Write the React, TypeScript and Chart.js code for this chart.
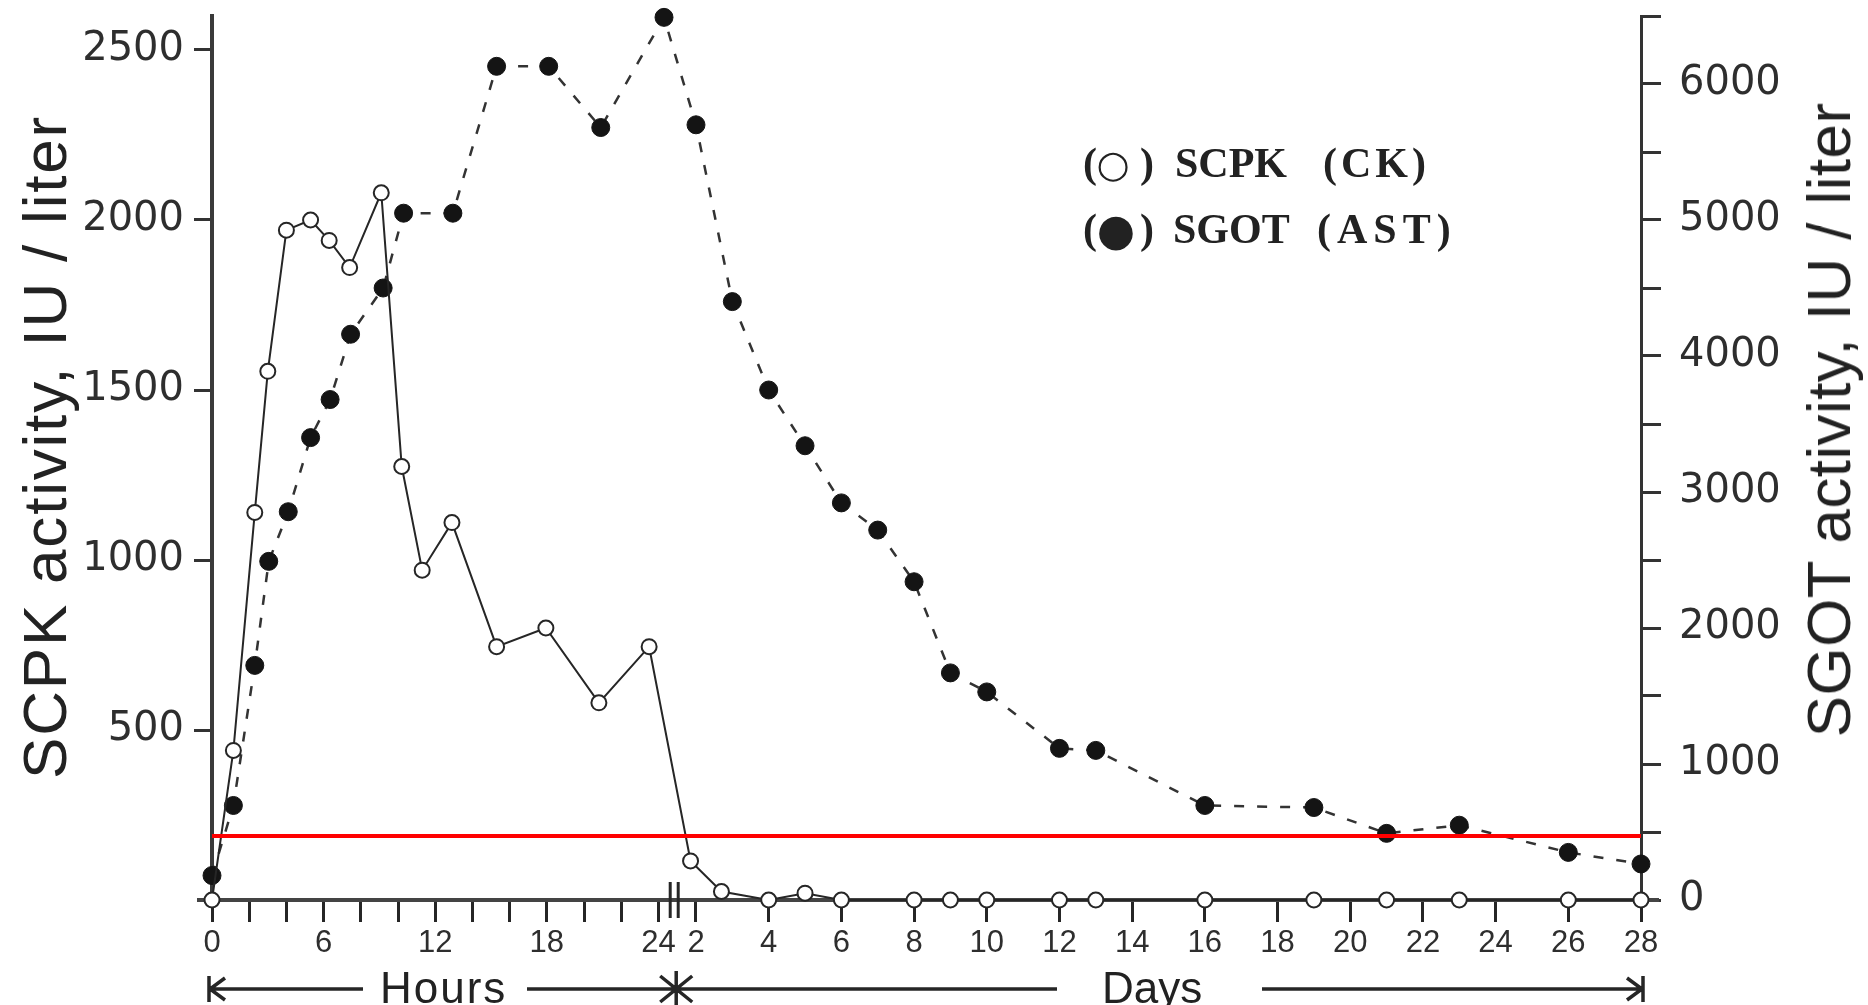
import React, { useEffect, useRef } from 'react';
import { Chart, registerables } from 'chart.js';

Chart.register(...registerables);

// ---------- DATA ----------
// SCPK (CK), IU/liter, left axis (open circles, solid line)
const scpkHours = [0, 1.15, 2.3, 3, 4, 5.3, 6.3, 7.4, 9.1, 10.2, 11.3, 12.9, 15.3, 17.95, 20.8, 23.5];
const scpkHourValues = [0, 440, 1140, 1555, 1970, 2000, 1940, 1860, 2080, 1275, 970, 1110, 745, 800, 580, 745];
const scpkDays = [1.85, 2.7, 4, 5, 6, 8, 9, 10, 12, 13, 16, 19, 21, 23, 26, 28];
const scpkDayValues = [115, 25, 0, 20, 0, 0, 0, 0, 0, 0, 0, 0, 0, 0, 0, 0];

// SGOT (AST), IU/liter, right axis (filled circles, dashed line)
const sgotHours = [0, 1.15, 2.3, 3.05, 4.1, 5.3, 6.35, 7.45, 9.2, 10.3, 12.95, 15.3, 18.1, 20.9, 24.3];
const sgotHourValues = [180, 695, 1725, 2490, 2855, 3400, 3680, 4160, 4500, 5050, 5050, 6130, 6130, 5680, 6490];
const sgotDays = [2, 3, 4, 5, 6, 7, 8, 9, 10, 12, 13, 16, 19, 21, 23, 26, 28];
const sgotDayValues = [5700, 4400, 3750, 3340, 2920, 2720, 2340, 1670, 1530, 1115, 1100, 695, 680, 490, 550, 350, 265];

// Reference (red) line, SGOT IU/liter
const sgotReferenceLevel = 470;

// Tick values and labels
const hourTicks = [0, 2, 4, 6, 8, 10, 12, 14, 16, 18, 20, 22, 24];
const hourTickLabels = ['0', '', '', '6', '', '', '12', '', '', '18', '', '', '24'];
const dayTicks = [2, 4, 6, 8, 10, 12, 14, 16, 18, 20, 22, 24, 26, 28];
const dayTickLabels = ['2', '4', '6', '8', '10', '12', '14', '16', '18', '20', '22', '24', '26', '28'];
const scpkTicks = [500, 1000, 1500, 2000, 2500];
const scpkTickLabels = ['500', '1000', '1500', '2000', '2500'];
const sgotTicks = [0, 500, 1000, 1500, 2000, 2500, 3000, 3500, 4000, 4500, 5000, 5500, 6000, 6500];
const sgotTickLabels = ['0', '', '1000', '', '2000', '', '3000', '', '4000', '', '5000', '', '6000', ''];

const SCPK_MAX = 2600;
const SGOT_MAX = 6500;

// Broken time axis: hours are 1 unit each, days are compressed after the break
const DAY_AXIS_ORIGIN = 26.02; // axis units at day 2
const DAY_AXIS_STEP = 1.954; // axis units per day
const hourToAxis = (h: number) => h;
const dayToAxis = (d: number) => DAY_AXIS_ORIGIN + (d - 2) * DAY_AXIS_STEP;
const X_MAX = dayToAxis(28);

const xTickValues = [...hourTicks.map(hourToAxis), ...dayTicks.map(dayToAxis)];
const xTickLabels = [...hourTickLabels, ...dayTickLabels];

const INK = '#262626';

const decorPlugin = {
  id: 'decor',
  beforeDatasetsDraw(chart: any) {
    const { ctx, chartArea, scales } = chart;
    const x = scales.x;
    const yb = chartArea.bottom;
    ctx.save();
    // x-axis line extensions beyond the y axes
    ctx.strokeStyle = '#444';
    ctx.lineWidth = 4;
    ctx.beginPath();
    ctx.moveTo(chartArea.left - 15, yb);
    ctx.lineTo(chartArea.left, yb);
    ctx.moveTo(chartArea.right, yb);
    ctx.lineTo(chartArea.right + 18, yb);
    ctx.stroke();
    // axis break marks between 24 h and day 2
    const bc = (x.getPixelForValue(hourToAxis(24)) + x.getPixelForValue(dayToAxis(2))) / 2 - 3;
    ctx.strokeStyle = INK;
    ctx.lineWidth = 3;
    ctx.beginPath();
    [bc - 4, bc + 4].forEach((px) => {
      ctx.moveTo(px, yb - 18);
      ctx.lineTo(px, yb + 18);
    });
    ctx.stroke();
    ctx.restore();
  },
  afterDraw(chart: any) {
    const { ctx, chartArea, scales } = chart;
    const x = scales.x;
    const ya = chartArea.bottom + 89;
    const x0 = x.getPixelForValue(0) - 3;
    const jx = (x.getPixelForValue(hourToAxis(24)) + x.getPixelForValue(dayToAxis(2))) / 2 - 1;
    const xe = x.getPixelForValue(X_MAX) + 2;
    ctx.save();
    ctx.strokeStyle = INK;
    ctx.lineWidth = 3.5;
    ctx.lineCap = 'butt';
    ctx.beginPath();
    // Hours arrow
    ctx.moveTo(x0, ya); ctx.lineTo(363, ya);
    ctx.moveTo(527, ya); ctx.lineTo(jx, ya);
    // Days arrow
    ctx.moveTo(jx, ya); ctx.lineTo(1057, ya);
    ctx.moveTo(1262, ya); ctx.lineTo(xe, ya);
    // end bars
    ctx.moveTo(x0, ya - 13); ctx.lineTo(x0, ya + 13);
    ctx.moveTo(jx, ya - 18); ctx.lineTo(jx, ya + 16);
    ctx.moveTo(xe, ya - 13); ctx.lineTo(xe, ya + 13);
    // chevrons
    ctx.moveTo(x0 + 16, ya - 11); ctx.lineTo(x0 + 1, ya); ctx.lineTo(x0 + 16, ya + 11);
    ctx.moveTo(jx - 16, ya - 13); ctx.lineTo(jx, ya); ctx.lineTo(jx - 16, ya + 13);
    ctx.moveTo(jx + 16, ya - 13); ctx.lineTo(jx, ya); ctx.lineTo(jx + 16, ya + 13);
    ctx.moveTo(xe - 16, ya - 11); ctx.lineTo(xe - 1, ya); ctx.lineTo(xe - 16, ya + 11);
    ctx.stroke();
    ctx.restore();
  },
};

const tickFontY = { family: "'DejaVu Sans', 'Liberation Sans', sans-serif", size: 40 };
const tickFontX = { family: "'Liberation Sans', Arial, sans-serif", size: 31 };

export default function App() {
  const canvasRef = useRef<HTMLCanvasElement | null>(null);

  useEffect(() => {
    if (!canvasRef.current) return;
    const scpkPoints = [
      ...scpkHours.map((h, i) => ({ x: hourToAxis(h), y: scpkHourValues[i] })),
      ...scpkDays.map((d, i) => ({ x: dayToAxis(d), y: scpkDayValues[i] })),
    ];
    const sgotPoints = [
      ...sgotHours.map((h, i) => ({ x: hourToAxis(h), y: sgotHourValues[i] })),
      ...sgotDays.map((d, i) => ({ x: dayToAxis(d), y: sgotDayValues[i] })),
    ];
    const refLine = [
      { x: 0, y: sgotReferenceLevel },
      { x: X_MAX, y: sgotReferenceLevel },
    ];

    const chart = new Chart(canvasRef.current, {
      type: 'line',
      data: {
        datasets: [
          {
            label: 'Reference',
            data: refLine,
            yAxisID: 'yR',
            borderColor: '#ff0000',
            borderWidth: 4,
            pointRadius: 0,
            clip: false as any,
          },
          {
            label: 'SCPK (CK)',
            data: scpkPoints,
            yAxisID: 'yL',
            borderColor: INK,
            borderWidth: 2,
            pointRadius: 7.5,
            pointBackgroundColor: '#ffffff',
            pointBorderColor: INK,
            pointBorderWidth: 2,
            clip: false as any,
          },
          {
            label: 'SGOT (AST)',
            data: sgotPoints,
            yAxisID: 'yR',
            borderColor: '#333333',
            borderWidth: 2.5,
            borderDash: [10, 13],
            pointRadius: 9,
            pointBackgroundColor: '#141414',
            pointBorderColor: '#141414',
            pointBorderWidth: 1,
            clip: false as any,
          },
        ],
      },
      options: {
        animation: false,
        responsive: false,
        events: [],
        layout: { padding: { top: 16, left: 0, right: 0, bottom: 0 } },
        plugins: { legend: { display: false }, tooltip: { enabled: false } },
        scales: {
          x: {
            type: 'linear',
            min: 0,
            max: X_MAX,
            afterBuildTicks: (s: any) => {
              s.ticks = xTickValues.map((v) => ({ value: v }));
            },
            afterFit: (s: any) => {
              s.height = 105;
              s.paddingLeft = 0;
              s.paddingRight = 0;
            },
            ticks: {
              autoSkip: false,
              maxRotation: 0,
              minRotation: 0,
              padding: 3,
              color: '#2e2e2e',
              font: tickFontX,
              callback: (_v: any, i: number) => xTickLabels[i],
            },
            grid: {
              drawOnChartArea: false,
              drawTicks: true,
              tickLength: 22,
              tickWidth: 3,
              tickColor: INK,
            },
            border: { display: true, color: '#444', width: 4 },
          },
          yL: {
            type: 'linear',
            position: 'left',
            min: 0,
            max: SCPK_MAX,
            afterBuildTicks: (s: any) => {
              s.ticks = scpkTicks.map((v) => ({ value: v }));
            },
            afterFit: (s: any) => {
              s.width = 212;
              s.paddingTop = 0;
              s.paddingBottom = 0;
            },
            ticks: {
              padding: 10,
              color: '#2e2e2e',
              font: tickFontY,
              callback: (_v: any, i: number) => scpkTickLabels[i],
            },
            grid: {
              drawOnChartArea: false,
              drawTicks: true,
              tickLength: 18,
              tickWidth: 3,
              tickColor: '#333',
            },
            border: { display: true, color: '#3a3a3a', width: 4 },
          },
          yR: {
            type: 'linear',
            position: 'right',
            min: 0,
            max: SGOT_MAX,
            afterBuildTicks: (s: any) => {
              s.ticks = sgotTicks.map((v) => ({ value: v }));
            },
            afterFit: (s: any) => {
              s.width = 227;
              s.paddingTop = 0;
              s.paddingBottom = 0;
            },
            ticks: {
              padding: 18,
              color: '#2e2e2e',
              font: tickFontY,
              callback: (_v: any, i: number) => sgotTickLabels[i],
            },
            grid: {
              drawOnChartArea: false,
              drawTicks: true,
              tickLength: 20,
              tickWidth: 3,
              tickColor: '#333',
            },
            border: { display: true, color: '#333', width: 3 },
          },
        },
      } as any,
      plugins: [decorPlugin],
    });
    return () => chart.destroy();
  }, []);

  const sans = "'Liberation Sans', Arial, sans-serif";
  const serif = "'Liberation Serif', 'Times New Roman', serif";
  const abs = (extra: React.CSSProperties): React.CSSProperties => ({
    position: 'absolute',
    whiteSpace: 'pre',
    lineHeight: 1,
    color: '#222',
    ...extra,
  });

  return (
    <div style={{ position: 'absolute', left: 0, top: 0, width: 1868, height: 1005, background: '#fff', overflow: 'hidden' }}>
      <canvas ref={canvasRef} width={1868} height={1005} style={{ position: 'absolute', left: 0, top: 0 }} />
      {/* Axis titles */}
      <div style={abs({ left: 45, top: 447, transform: 'translate(-50%, -50%) rotate(-90deg)', fontFamily: sans, fontSize: 62, letterSpacing: '1.8px' })}>
        SCPK activity, IU / liter
      </div>
      <div style={abs({ left: 1829, top: 420, transform: 'translate(-50%, -50%) rotate(-90deg)', fontFamily: sans, fontSize: 62, letterSpacing: '0.4px' })}>
        SGOT activity, IU / liter
      </div>
      {/* Legend */}
      <div style={abs({ left: 1083, top: 142, fontFamily: serif, fontWeight: 700, fontSize: 42 })}>(</div>
      <div style={abs({ left: 1113, top: 164, transform: 'translate(-50%, -50%)', fontFamily: "'DejaVu Sans', sans-serif", fontSize: 38 })}>○</div>
      <div style={abs({ left: 1140, top: 142, fontFamily: serif, fontWeight: 700, fontSize: 42 })}>)</div>
      <div style={abs({ left: 1175, top: 142, fontFamily: serif, fontWeight: 700, fontSize: 42 })}>SCPK</div>
      <div style={abs({ left: 1323, top: 142, fontFamily: serif, fontWeight: 700, fontSize: 42, letterSpacing: '4px' })}>(CK)</div>
      <div style={abs({ left: 1083, top: 208, fontFamily: serif, fontWeight: 700, fontSize: 42 })}>(</div>
      <div style={abs({ left: 1116, top: 230, transform: 'translate(-50%, -50%)', fontFamily: "'DejaVu Sans', sans-serif", fontSize: 44 })}>●</div>
      <div style={abs({ left: 1140, top: 208, fontFamily: serif, fontWeight: 700, fontSize: 42 })}>)</div>
      <div style={abs({ left: 1173, top: 208, fontFamily: serif, fontWeight: 700, fontSize: 42 })}>SGOT</div>
      <div style={abs({ left: 1317, top: 208, fontFamily: serif, fontWeight: 700, fontSize: 42, letterSpacing: '6px' })}>(AST)</div>
      {/* Time-scale annotations */}
      <div style={abs({ left: 380, top: 966, fontFamily: sans, fontSize: 44, letterSpacing: '2px' })}>Hours</div>
      <div style={abs({ left: 1102, top: 966, fontFamily: sans, fontSize: 44 })}>Days</div>
    </div>
  );
}
